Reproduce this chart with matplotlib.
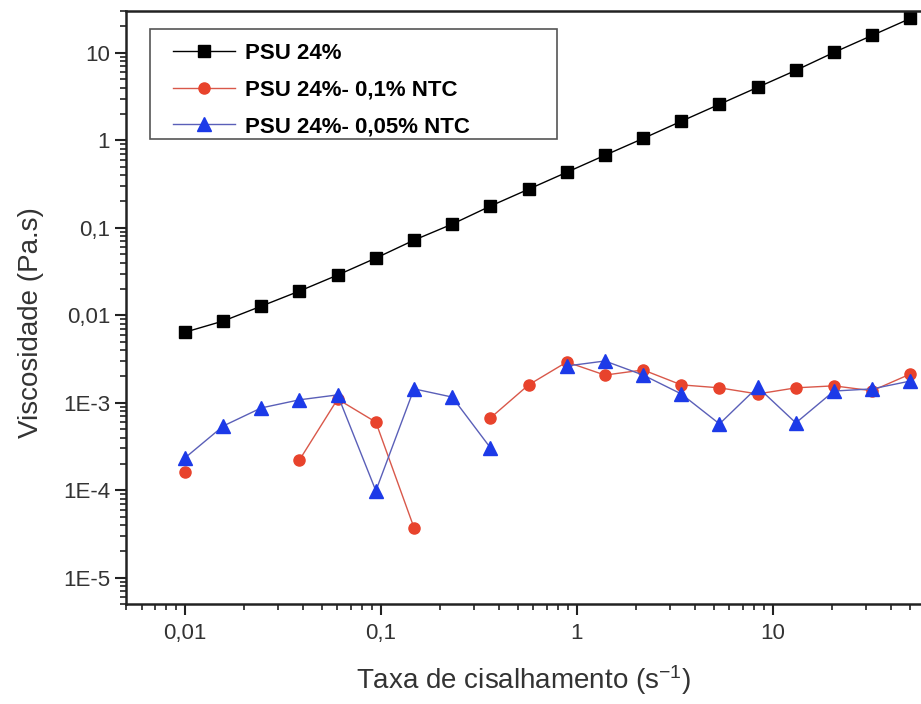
import numpy as np
import matplotlib
matplotlib.use("Agg")
import matplotlib.pyplot as plt
from matplotlib.patches import Rectangle

plt.rcParams['font.family'] = ['Liberation Sans', 'DejaVu Sans']
plt.rcParams['mathtext.default'] = 'regular'

# Shear rate (1/s)
shear_rate = [0.01, 0.0157, 0.0245, 0.0384, 0.0601, 0.0942, 0.1475, 0.231, 0.362, 0.567,
              0.888, 1.39, 2.18, 3.41, 5.34, 8.36, 13.1, 20.5, 32.1, 50.3]

# Viscosity (Pa.s); nan = missing point
visc_psu = [0.0064, 0.0086, 0.0127, 0.0189, 0.0288, 0.045, 0.0722, 0.110, 0.177, 0.276,
            0.431, 0.674, 1.05, 1.65, 2.58, 4.03, 6.30, 10.1, 15.8, 24.7]
visc_ntc01 = [1.62e-4, np.nan, np.nan, 2.22e-4, 1.10e-3, 6.0e-4, 3.72e-5, np.nan, 6.7e-4, 1.60e-3,
              2.92e-3, 2.07e-3, 2.37e-3, 1.60e-3, 1.48e-3, 1.26e-3, 1.48e-3, 1.56e-3, 1.37e-3, 2.13e-3]
visc_ntc005 = [2.34e-4, 5.43e-4, 8.72e-4, 1.08e-3, 1.23e-3, 9.85e-5, 1.44e-3, 1.16e-3, 3.05e-4, np.nan,
               2.63e-3, 3.0e-3, 2.07e-3, 1.26e-3, 5.73e-4, 1.51e-3, 5.88e-4, 1.36e-3, 1.44e-3, 1.77e-3]

labels = ['PSU 24%', 'PSU 24%- 0,1% NTC', 'PSU 24%- 0,05% NTC']

x_ticks = [0.01, 0.1, 1, 10]
x_ticklabels = ['0,01', '0,1', '1', '10']
y_ticks = [1e-5, 1e-4, 1e-3, 0.01, 0.1, 1, 10]
y_ticklabels = ['1E-5', '1E-4', '1E-3', '0,01', '0,1', '1', '10']

fig = plt.figure(figsize=(9.21, 7.04), dpi=100)
ax = fig.add_axes([0.1368, 0.1420, 0.8632, 0.8423])

ax.plot(shear_rate, visc_psu, color='black', lw=1, marker='s', ms=8, label=labels[0])
ax.plot(shear_rate, visc_ntc01, color='#d9584a', lw=1, marker='o', ms=8,
        mfc='#e8432c', mec='#e8432c', label=labels[1])
ax.plot(shear_rate, visc_ntc005, color='#5a5fb8', lw=1, marker='^', ms=10,
        mfc='#1c3ae8', mec='#1c3ae8', label=labels[2])

ax.set_xscale('log')
ax.set_yscale('log')
ax.set_xlim(0.005, 57)
ax.set_ylim(5e-6, 30)

ax.set_xticks(x_ticks)
ax.set_xticklabels(x_ticklabels)
ax.set_yticks(y_ticks)
ax.set_yticklabels(y_ticklabels)
ax.tick_params(which='major', length=8, width=1.5, labelsize=16, color='#222222', labelcolor='#333333')
ax.tick_params(which='minor', length=4, width=1.2, color='#222222')
ax.tick_params(axis='x', which='major', pad=6)
ax.tick_params(axis='both', direction='out', top=False, right=False)

for s in ['left', 'bottom', 'top']:
    ax.spines[s].set_linewidth(1.8)
    ax.spines[s].set_color('#222222')
ax.spines['right'].set_visible(False)

ax.set_xlabel('Taxa de cisalhamento (s$^{-1}$)', fontsize=20, color='#333333')
ax.set_ylabel('Viscosidade (Pa.s)', fontsize=20, color='#333333')
ax.xaxis.set_label_coords(0.5, -0.100)
ax.yaxis.set_label_coords(-0.103, 0.474)

# legend box drawn separately so the inner padding can match
ax.add_patch(Rectangle((0.0302, 0.7841), 0.512, 0.1855, transform=ax.transAxes,
                       fill=True, facecolor='white', edgecolor='#555555', lw=1.2, zorder=4))
leg = ax.legend(loc='upper left', bbox_to_anchor=(0.0591, 0.946), borderaxespad=0,
                prop={'weight': 'bold', 'size': 16}, frameon=False,
                handlelength=2.8, labelspacing=0.70, borderpad=0, handletextpad=0.45)
leg.set_zorder(5)

fig.savefig('out.png', dpi=100)
